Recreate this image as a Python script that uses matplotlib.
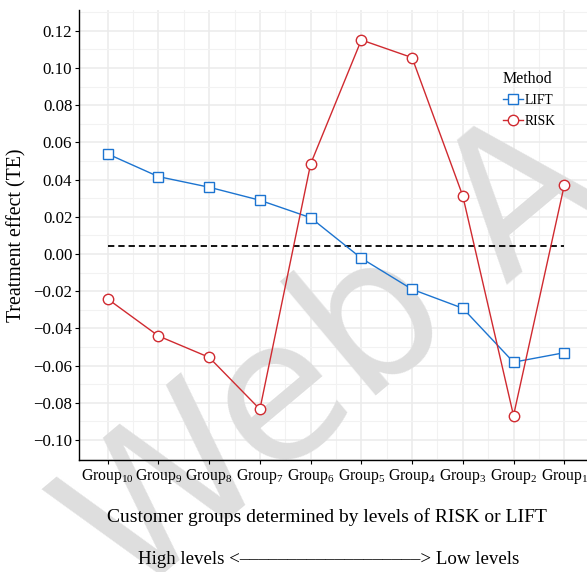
import numpy as np
import matplotlib.pyplot as plt

plt.rcParams['font.family'] = ['Liberation Serif', 'DejaVu Serif']
plt.rcParams['mathtext.fontset'] = 'custom'
plt.rcParams['mathtext.rm'] = 'Liberation Serif'

# Customer groups, from high to low levels of the score
groups = ['10', '9', '8', '7', '6', '5', '4', '3', '2', '1']
lift_te = [0.0538, 0.0416, 0.0359, 0.0289, 0.0195, -0.0023, -0.0190, -0.0292, -0.0582, -0.0531]
risk_te = [-0.0242, -0.0441, -0.0556, -0.0835, 0.0484, 0.1151, 0.1056, 0.0312, -0.0869, 0.0369]
overall_te = 0.0045

yticks = np.arange(-0.10, 0.121, 0.02)

fig = plt.figure(figsize=(5.87, 5.72), dpi=100)
ax = fig.add_axes([0.1351, 0.1958, 0.878, 0.7867])

x = np.arange(1, len(groups) + 1)

# ggplot-like grid
for xv in x:
    ax.axvline(xv, color='#ebebeb', lw=1.1, zorder=0)
for xv in x[:-1] + 0.5:
    ax.axvline(xv, color='#f2f2f2', lw=0.8, zorder=0)
for yv in yticks:
    ax.axhline(yv, color='#ebebeb', lw=1.1, zorder=0)
for yv in np.arange(-0.11, 0.131, 0.02):
    ax.axhline(yv, color='#f2f2f2', lw=0.8, zorder=0)

# faint watermark behind the data
ax.text(0.571, 0.371, 'Web A', transform=fig.transFigure, rotation=40,
        fontsize=142, fontfamily='DejaVu Sans', color='#dedede',
        ha='center', va='center', zorder=0.5, clip_on=False)

ax.plot([x[0], x[-1]], [overall_te, overall_te], color='black', lw=1.3,
        ls=(0, (3.5, 2.2)), zorder=2)
ax.plot(x, lift_te, color='#1c74d0', lw=1.0, marker='s', ms=6.5,
        mfc='white', mec='#1c74d0', mew=1.0, label='LIFT', zorder=3)
ax.plot(x, risk_te, color='#d02a30', lw=1.0, marker='o', ms=7.5,
        mfc='white', mec='#d02a30', mew=1.0, label='RISK', zorder=3)

ax.set_xlim(0.44, 10.6)
ax.set_ylim(-0.1108, 0.1312)
ax.set_xticks(x)
ax.set_xticklabels([r'Group$_{\mathrm{%s}}$' % g for g in groups], fontsize=11.3)
ax.set_yticks(yticks)
ax.set_yticklabels(['%.2f' % v if v >= -1e-9 else '\u2212%.2f' % -v for v in yticks], fontsize=12.2)
ax.tick_params(length=3, width=0.8, color='black', pad=2)

for s in ['top', 'right']:
    ax.spines[s].set_visible(False)
for s in ['left', 'bottom']:
    ax.spines[s].set_linewidth(1.0)
    ax.spines[s].set_color('black')

ax.set_ylabel('Treatment effect (TE)', fontsize=14.3, labelpad=5)

fig.text(327 / 587, 1 - 517 / 572, 'Customer groups determined by levels of RISK or LIFT',
         ha='center', va='center', fontsize=14)
fig.text(329 / 587, 1 - 559 / 572, 'High levels <\u2013\u2013\u2013\u2013\u2013\u2013\u2013\u2013\u2013\u2013\u2013\u2013\u2013\u2013\u2013\u2013\u2013\u2013\u2013> Low levels',
         ha='center', va='center', fontsize=13.6)

leg = fig.legend(loc='upper left', bbox_to_anchor=(0.84, 0.893), title='Method',
                 frameon=False, fontsize=9.8, title_fontsize=11.5, handlelength=1.5,
                 handletextpad=0.15, labelspacing=0.55, borderpad=0.2)
leg._legend_box.align = 'left'

fig.savefig('out.png', dpi=100)
